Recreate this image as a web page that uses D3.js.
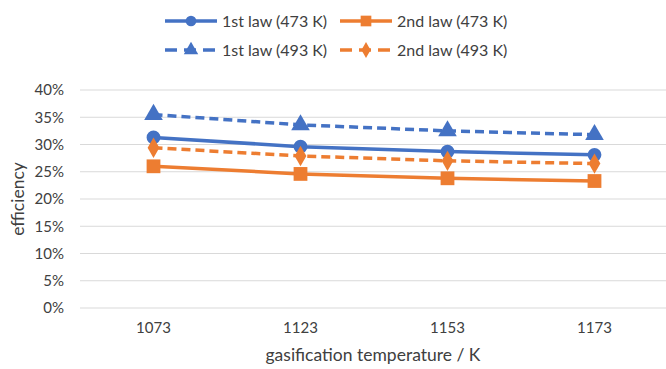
<!DOCTYPE html>
<html>
<head>
<meta charset="utf-8">
<script src="https://cdn.jsdelivr.net/npm/d3@7"></script>
<style>
  html, body { margin: 0; padding: 0; background: #fff; }
  svg { display: block; font-family: Lato, "Open Sans", sans-serif; }
</style>
</head>
<body>
<svg id="chart" width="666" height="369"></svg>
<script>
// Gasification temperatures (K)
const categories = ["1073", "1123", "1153", "1173"];

// Efficiencies (%)
const firstLaw473  = [31.3, 29.6, 28.7, 28.1];
const secondLaw473 = [26.0, 24.6, 23.8, 23.3];
const firstLaw493  = [35.5, 33.6, 32.5, 31.8];
const secondLaw493 = [29.4, 27.9, 27.0, 26.5];

const yTicks = [0, 5, 10, 15, 20, 25, 30, 35, 40];

const seriesNames = ["1st law (473 K)", "2nd law (473 K)", "1st law (493 K)", "2nd law (493 K)"];

const BLUE = "#4472C4", ORANGE = "#ED7D31";

const series = [
  { name: seriesNames[0], values: firstLaw473,  color: BLUE,   dashed: false, symbol: d3.symbolCircle,   size: 150 },
  { name: seriesNames[1], values: secondLaw473, color: ORANGE, dashed: false, symbol: d3.symbolSquare,   size: 190 },
  { name: seriesNames[2], values: firstLaw493,  color: BLUE,   dashed: true,  symbol: d3.symbolTriangle, size: 150 },
  { name: seriesNames[3], values: secondLaw493, color: ORANGE, dashed: true,  symbol: d3.symbolDiamond,  size: 120 }
];

const svg = d3.select("#chart");
const margin = { left: 80, right: -2, top: 90, bottom: 61 };
const W = 666, H = 369;

const x = d3.scaleBand().domain(categories).range([margin.left, W - margin.right]);
const y = d3.scaleLinear().domain([0, 40]).range([H - margin.bottom, margin.top]);

// Horizontal gridlines
svg.append("g")
  .selectAll("line")
  .data(yTicks)
  .join("line")
  .attr("x1", margin.left).attr("x2", W - margin.right)
  .attr("y1", d => y(d)).attr("y2", d => y(d))
  .attr("stroke", "#D9D9D9").attr("stroke-width", 1.2);

// Y axis tick labels
const yAxis = d3.axisLeft(y).tickValues(yTicks).tickFormat(d => d + "%").tickSize(0).tickPadding(16);
svg.append("g")
  .attr("transform", `translate(${margin.left},0)`)
  .call(yAxis)
  .call(g => g.select(".domain").remove())
  .selectAll("text")
  .attr("font-size", 15).attr("fill", "#404040")
  .attr("font-family", "Lato, sans-serif");

// X axis tick labels
const xAxis = d3.axisBottom(x).tickSize(0).tickPadding(14);
svg.append("g")
  .attr("transform", `translate(0,${y(0)})`)
  .call(xAxis)
  .call(g => g.select(".domain").remove())
  .selectAll("text")
  .attr("font-size", 15).attr("fill", "#404040")
  .attr("font-family", "Lato, sans-serif");

// Axis titles
svg.append("text")
  .attr("transform", `translate(24,${(y(0) + y(40)) / 2}) rotate(-90)`)
  .attr("text-anchor", "middle")
  .attr("font-size", 17.5).attr("fill", "#404040")
  .text("efficiency");

svg.append("text")
  .attr("x", 373).attr("y", 361)
  .attr("text-anchor", "middle")
  .attr("font-size", 17.5).attr("fill", "#404040")
  .text("gasification temperature / K");

// Series lines and markers
const line = d3.line()
  .x((d, i) => x(categories[i]) + x.bandwidth() / 2)
  .y(d => y(d));

series.forEach(s => {
  svg.append("path")
    .datum(s.values)
    .attr("d", line)
    .attr("fill", "none")
    .attr("stroke", s.color)
    .attr("stroke-width", 3.5)
    .attr("stroke-dasharray", s.dashed ? "9,5" : null);

  svg.append("g")
    .selectAll("path")
    .data(s.values)
    .join("path")
    .attr("transform", (d, i) => `translate(${x(categories[i]) + x.bandwidth() / 2},${y(d)})`)
    .attr("d", d3.symbol().type(s.symbol).size(s.size))
    .attr("fill", s.color);
});

// Legend
const legendPos = [
  { lx: 165, ty: 21 }, { lx: 340, ty: 21 },
  { lx: 165, ty: 50 }, { lx: 340, ty: 50 }
];
series.forEach((s, i) => {
  const p = legendPos[i];
  const g = svg.append("g");
  g.append("line")
    .attr("x1", p.lx).attr("x2", p.lx + 52)
    .attr("y1", p.ty).attr("y2", p.ty)
    .attr("stroke", s.color).attr("stroke-width", 3.5)
    .attr("stroke-dasharray", s.dashed ? "12,7" : null);
  g.append("path")
    .attr("transform", `translate(${p.lx + 26},${p.ty})`)
    .attr("d", d3.symbol().type(s.symbol).size(s.size * 0.6))
    .attr("fill", s.color);
  g.append("text")
    .attr("x", p.lx + 57).attr("y", p.ty + 5.5)
    .attr("font-size", 16).attr("fill", "#404040")
    .text(s.name);
});
</script>
</body>
</html>
